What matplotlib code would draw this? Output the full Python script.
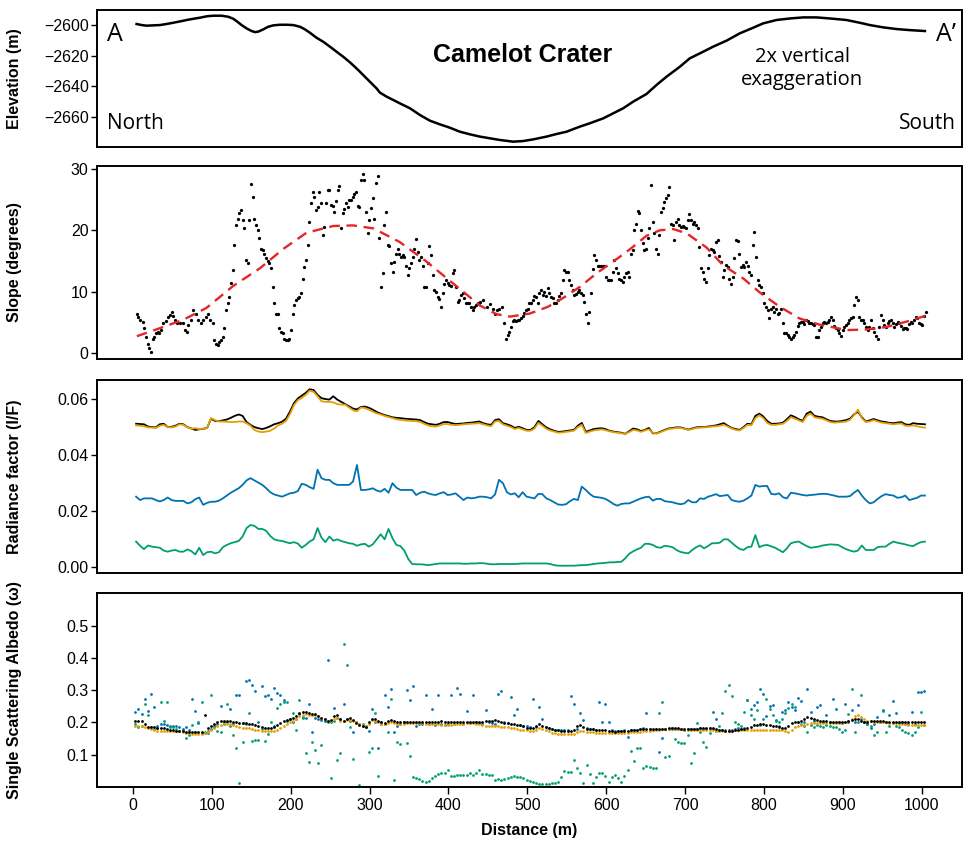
import numpy as np
import matplotlib.pyplot as plt

plt.rcParams['font.family'] = ['Liberation Sans', 'DejaVu Sans']
plt.rcParams['axes.unicode_minus'] = True

# --- elevation profile A-A' (m)
elev_dist = [4.6, 11.0, 17.3, 25.8, 34.2, 42.7, 51.1, 61.7, 72.2, 84.9, 93.4, 101.8, 112.4,
             120.9, 127.2, 132.3, 137.7, 144.1, 150.4, 154.6, 158.9, 165.2, 171.5, 177.9,
             186.3, 194.8, 203.2, 211.7, 218.0, 224.3, 232.8, 241.2, 249.7, 258.1, 266.6,
             275.0, 283.5, 291.9, 300.4, 308.8, 313.1, 321.5, 330.0, 338.4, 351.1, 363.8,
             376.4, 389.1, 401.8, 414.4, 427.1, 439.8, 452.5, 465.1, 482.0, 494.7, 507.4,
             524.3, 537.0, 549.7, 566.5, 579.2, 596.1, 608.8, 621.5, 634.1, 651.0, 663.7,
             676.4, 693.3, 705.9, 718.6, 735.5, 752.4, 769.3, 784.1, 798.9, 815.8, 832.7,
             849.6, 866.5, 883.4, 904.5, 921.4, 934.1, 951.0, 967.9, 984.8, 1004.0]
elev_m = [-2599.3, -2600.0, -2600.4, -2600.2, -2600.0, -2599.3, -2598.5, -2597.4, -2596.3,
          -2595.2, -2594.3, -2593.9, -2593.9, -2594.6, -2595.9, -2597.8, -2600.0, -2602.2,
          -2603.9, -2604.6, -2604.3, -2602.8, -2601.1, -2600.2, -2599.8, -2599.8, -2600.0,
          -2601.1, -2602.8, -2605.0, -2608.3, -2610.9, -2614.1, -2617.4, -2620.7, -2624.3,
          -2628.3, -2632.6, -2637.0, -2641.3, -2644.1, -2646.7, -2648.9, -2651.1, -2654.3,
          -2658.7, -2662.4, -2664.8, -2667.0, -2669.6, -2671.3, -2672.8, -2673.9, -2675.0,
          -2676.1, -2675.7, -2674.6, -2672.8, -2671.1, -2669.6, -2666.3, -2664.1, -2660.9,
          -2657.6, -2654.3, -2650.0, -2645.0, -2639.1, -2633.7, -2627.2, -2621.7, -2618.5,
          -2614.1, -2610.2, -2605.4, -2602.2, -2598.9, -2596.7, -2595.7, -2595.0, -2595.0,
          -2595.7, -2596.7, -2598.5, -2600.0, -2601.5, -2602.6, -2603.3, -2603.9]

# --- slope (degrees); first stretch of each half is irregular, then every ~2.1 m
slope_dist_a = [4.6, 6.8, 8.9, 12.3, 14.4, 16.5, 18.6, 20.7, 22.8, 24.9, 27.0, 29.2, 31.3,
                33.4, 35.5, 38.4, 41.8, 44.8, 46.9, 49.0, 51.1, 53.2, 55.3, 59.6, 62.9, 65.9,
                68.0, 70.1, 73.1, 76.5, 79.8, 82.8, 85.8, 89.1, 92.5, 95.5, 97.6, 101.0]
slope_dist_b = [439.8, 444.1, 448.4, 452.5, 455.9, 458.8, 461.8, 464.3, 467.3, 470.3]
slope_deg = [
    6.4, 5.9, 5.3, 5.1, 4.0, 2.6, 1.5, 0.7, 0.2, 2.3,
    2.6, 3.2, 3.4, 3.2, 3.7, 4.8, 5.2, 5.9, 6.2, 6.7,
    6.0, 5.4, 4.9, 4.8, 4.8, 3.7, 3.4, 4.5, 5.3, 7.0,
    6.3, 5.3, 4.8, 5.4, 5.9, 6.4, 5.4, 4.8, 2.1, 1.5,
    1.3, 1.8, 2.1, 2.6, 4.0, 7.0, 8.1, 9.1, 11.4, 13.5,
    17.6, 20.8, 21.9, 22.8, 23.3, 21.6, 20.3, 15.1, 14.6, 21.7,
    27.5, 25.5, 21.9, 20.8, 20.0, 18.7, 17.0, 16.7, 16.2, 15.4,
    15.0, 14.6, 13.8, 10.8, 8.1, 6.3, 6.3, 4.0, 3.4, 3.2,
    2.3, 2.1, 2.1, 2.3, 3.7, 6.3, 7.8, 8.6, 8.9, 9.1,
    9.7, 12.0, 14.0, 15.2, 17.6, 21.4, 24.4, 26.3, 25.5, 23.3,
    23.8, 26.3, 24.4, 19.2, 20.6, 24.4, 26.6, 26.6, 24.1, 24.0,
    23.0, 24.8, 26.6, 27.2, 20.3, 22.8, 23.4, 24.4, 23.8, 25.0,
    24.9, 25.4, 26.0, 26.3, 24.0, 23.8, 28.2, 29.2, 28.2, 23.0,
    19.6, 21.7, 23.6, 25.2, 21.9, 27.8, 28.9, 18.8, 10.7, 13.0,
    20.8, 23.0, 17.6, 17.4, 14.6, 13.2, 14.9, 16.2, 17.0, 16.2,
    15.7, 15.9, 15.7, 14.2, 12.7, 13.8, 14.6, 15.7, 16.9, 18.5,
    16.5, 15.1, 15.7, 14.2, 10.8, 10.8, 14.6, 17.4, 15.9, 12.7,
    10.2, 10.0, 9.1, 8.7, 7.5, 9.7, 11.3, 11.9, 11.4, 11.1,
    10.9, 13.0, 13.5, 10.8, 8.3, 8.6, 9.4, 9.8, 8.9, 8.2,
    8.1, 8.1, 7.5, 7.0, 7.5, 7.8, 8.1, 8.2,
    8.3, 8.6, 7.5, 7.9, 7.2, 6.3, 7.0, 7.2, 7.5, 4.8,
    2.3, 2.9, 3.4, 4.2, 5.2, 5.4, 5.2, 5.3, 5.3, 5.6,
    6.0, 6.5, 6.9, 7.1, 8.1, 8.2, 8.6, 9.3, 9.1, 8.1,
    9.7, 10.2, 9.4, 10.0, 9.3, 10.6, 9.7, 9.1, 8.9, 8.1,
    8.2, 8.6, 9.3, 9.7, 11.8, 13.5, 13.2, 13.2, 11.9, 11.1,
    10.2, 9.4, 9.6, 10.0, 10.2, 9.7, 9.4, 8.3, 6.3, 4.9,
    6.7, 9.7, 13.6, 15.9, 15.1, 14.2, 14.2, 14.2, 14.2, 14.2,
    12.4, 11.8, 11.8, 11.8, 13.2, 15.1, 13.8, 13.0, 12.1, 11.9,
    11.6, 12.4, 13.1, 13.2, 12.4, 16.1, 16.7, 20.0, 21.1, 23.2,
    22.8, 20.0, 18.0, 16.7, 16.9, 18.7, 20.3, 27.4, 21.4, 19.5,
    17.0, 16.2, 19.2, 23.0, 23.6, 24.7, 25.2, 25.7, 27.0, 21.0,
    20.9, 18.4, 21.4, 21.8, 20.9, 20.6, 20.7, 20.6, 20.3, 21.7,
    22.6, 21.7, 21.0, 21.4, 20.9, 20.3, 17.3, 13.9, 13.2, 12.1,
    11.6, 13.8, 15.9, 16.9, 16.8, 16.5, 18.1, 18.4, 15.8, 14.9,
    12.4, 13.5, 14.3, 14.0, 12.1, 11.2, 12.4, 15.4, 18.4, 18.3,
    16.2, 14.0, 14.3, 14.0, 14.9, 14.2, 13.2, 12.7, 17.6, 19.8,
    15.7, 11.9, 11.1, 10.7, 9.8, 8.2, 7.5, 7.0, 5.6, 7.2,
    7.5, 6.7, 7.1, 6.4, 6.5, 7.2, 4.8, 3.2, 3.2, 2.9,
    2.6, 2.3, 2.5, 2.9, 3.4, 4.4, 4.8, 5.1, 5.1, 4.7,
    5.3, 5.2, 4.9, 4.8, 4.7, 4.5, 2.6, 2.5, 3.7, 4.2,
    4.9, 5.1, 4.8, 5.1, 5.4, 5.9, 5.3, 4.4, 4.0, 3.7,
    3.3, 2.7, 3.7, 4.2, 4.5, 4.8, 5.3, 5.6, 5.9, 7.8,
    9.1, 8.6, 5.9, 5.3, 5.3, 4.9, 4.2, 3.7, 4.2, 5.3,
    4.0, 3.4, 2.7, 2.3, 4.2, 6.2, 5.3, 4.5, 4.2, 4.8,
    5.2, 5.3, 4.9, 4.2, 4.7, 5.1, 4.9, 4.4, 3.8, 4.0,
    4.0, 3.8, 4.7, 5.1, 4.9, 5.4, 5.9, 5.6, 4.9, 4.7,
    4.5, 6.0, 6.7]

# smoothed slope trend
trend_dist = [5, 34, 64, 93, 127, 161, 191, 220, 254, 279, 305, 338, 372, 406, 440, 461,
              478, 503, 526, 546, 567, 588, 609, 630, 651, 668, 685, 702, 727, 748, 774,
              795, 820, 845, 870, 905, 930, 955, 981, 1004]
trend_deg = [2.7, 4.0, 5.4, 7.3, 10.9, 13.8, 17.0, 19.6, 20.7, 20.8, 20.3, 18.1, 14.9,
             11.3, 7.7, 6.3, 5.9, 6.4, 7.5, 9.0, 10.8, 13.0, 14.9, 16.9, 19.1, 20.0, 20.2,
             19.5, 17.2, 14.3, 12.1, 9.8, 7.5, 5.6, 4.6, 3.7, 3.8, 4.2, 5.1, 6.0]

# --- radiance factor I/F, every 5 m from 4 m (units of 1e-4)
rf_black = [
    512, 511, 510, 502, 500, 499, 510, 512, 500, 501, 505, 512, 510, 500, 495, 490, 492, 494, 497, 530,
    522, 521, 524, 527, 533, 540, 545, 540, 518, 508, 500, 496, 493, 497, 503, 510, 514, 519, 530, 555,
    585, 602, 612, 622, 635, 632, 615, 603, 600, 598, 610, 598, 590, 582, 574, 566, 563, 572, 573, 569,
    562, 554, 548, 543, 539, 535, 533, 532, 530, 529, 528, 527, 525, 518, 512, 510, 508, 512, 518, 518,
    514, 511, 512, 513, 515, 516, 518, 520, 514, 510, 508, 525, 528, 514, 510, 505, 497, 501, 496, 490,
    490, 500, 522, 510, 499, 492, 487, 483, 484, 486, 488, 490, 505, 515, 483, 488, 493, 495, 496, 493,
    487, 484, 482, 480, 476, 485, 495, 492, 486, 490, 497, 478, 478, 484, 490, 495, 497, 499, 499, 495,
    491, 495, 499, 500, 500, 502, 504, 506, 510, 514, 505, 497, 493, 490, 500, 512, 510, 540, 548, 538,
    522, 512, 512, 513, 516, 528, 542, 536, 528, 522, 548, 555, 540, 537, 535, 528, 522, 520, 520, 522,
    525, 530, 545, 555, 535, 520, 524, 529, 524, 520, 518, 515, 514, 516, 518, 510, 508, 514, 512, 511,
    510]
rf_orange = [
    506, 505, 503, 499, 498, 497, 505, 508, 500, 499, 502, 510, 508, 500, 494, 496, 493, 494, 497, 532,
    525, 520, 520, 519, 518, 518, 520, 520, 514, 505, 490, 484, 482, 484, 487, 495, 506, 512, 522, 546,
    578, 596, 604, 615, 630, 626, 610, 592, 590, 590, 588, 582, 580, 580, 570, 560, 556, 570, 568, 562,
    555, 549, 545, 540, 536, 532, 528, 526, 524, 523, 522, 521, 519, 512, 506, 503, 502, 506, 511, 511,
    508, 507, 508, 510, 511, 512, 513, 514, 510, 506, 503, 520, 522, 510, 505, 500, 493, 497, 492, 487,
    487, 495, 515, 505, 494, 488, 484, 480, 481, 483, 485, 487, 500, 508, 479, 484, 488, 490, 492, 489,
    485, 482, 480, 478, 476, 482, 490, 488, 483, 488, 492, 480, 477, 482, 488, 493, 495, 497, 497, 494,
    490, 493, 497, 498, 499, 500, 502, 503, 505, 508, 502, 495, 490, 488, 497, 508, 507, 532, 542, 532,
    515, 508, 508, 510, 512, 522, 535, 530, 524, 518, 540, 548, 535, 532, 530, 524, 518, 516, 517, 518,
    520, 526, 542, 562, 532, 518, 520, 525, 520, 516, 514, 512, 510, 512, 513, 505, 504, 506, 503, 500,
    498]
rf_blue = [
    252, 240, 246, 246, 246, 240, 235, 240, 249, 240, 237, 237, 237, 228, 232, 243, 249, 223, 230, 234,
    234, 238, 246, 256, 266, 274, 282, 294, 310, 318, 310, 302, 294, 282, 268, 260, 256, 252, 258, 264,
    266, 272, 298, 294, 286, 280, 348, 318, 312, 312, 300, 294, 294, 294, 294, 306, 365, 276, 276, 278,
    282, 274, 270, 280, 266, 300, 284, 276, 276, 276, 276, 258, 266, 270, 264, 260, 258, 264, 268, 258,
    260, 264, 252, 240, 249, 246, 248, 252, 252, 250, 246, 260, 312, 300, 268, 260, 264, 250, 268, 252,
    249, 246, 262, 261, 246, 240, 232, 224, 223, 225, 236, 244, 240, 288, 276, 262, 252, 250, 248, 244,
    236, 226, 220, 226, 228, 228, 234, 240, 246, 250, 252, 238, 244, 244, 236, 234, 232, 228, 225, 228,
    240, 232, 232, 246, 244, 252, 256, 261, 254, 256, 258, 240, 236, 234, 238, 246, 256, 294, 288, 290,
    290, 262, 260, 264, 250, 246, 266, 264, 261, 258, 256, 258, 259, 261, 262, 262, 259, 256, 252, 252,
    252, 254, 266, 276, 256, 240, 228, 232, 244, 254, 261, 258, 256, 248, 250, 256, 240, 244, 248, 256,
    256]
rf_green = [
    92, 77, 65, 78, 74, 72, 70, 60, 56, 60, 62, 56, 56, 64, 58, 46, 70, 44, 54, 56,
    50, 54, 72, 80, 86, 90, 94, 110, 140, 151, 148, 137, 137, 130, 112, 100, 96, 94, 90, 86,
    90, 85, 70, 80, 92, 100, 140, 106, 90, 110, 95, 100, 94, 90, 86, 84, 77, 82, 84, 74,
    82, 100, 118, 100, 137, 104, 80, 76, 60, 30, 12, 11, 11, 10, 8, 10, 12, 14, 14, 14,
    14, 14, 14, 13, 13, 14, 14, 15, 15, 13, 11, 11, 12, 12, 12, 12, 12, 13, 14, 14,
    14, 14, 14, 14, 14, 12, 8, 6, 6, 6, 6, 6, 7, 8, 8, 10, 12, 14, 15, 16,
    18, 18, 19, 20, 32, 48, 57, 64, 70, 84, 84, 80, 72, 70, 77, 75, 72, 62, 55, 52,
    50, 62, 72, 78, 68, 76, 86, 86, 88, 100, 100, 88, 76, 66, 62, 72, 74, 115, 72, 78,
    80, 75, 70, 62, 54, 68, 86, 90, 92, 84, 76, 70, 72, 74, 78, 80, 82, 81, 80, 72,
    65, 60, 56, 60, 78, 62, 62, 62, 72, 74, 74, 84, 92, 88, 85, 82, 78, 76, 84, 90,
    92]

# --- single scattering albedo, every 4 m from 3 m (units of 1e-3)
ssa_black = [
    204, 203, 204, 195, 187, 186, 185, 184, 183, 182, 180, 178, 176, 175, 174, 172, 171, 171, 171, 171, 170, 169, 222, 184, 190,
    196, 201, 203, 203, 203, 203, 202, 200, 198, 197, 197, 196, 195, 192, 188, 185, 184, 184, 184, 186, 192, 198, 203, 207, 211,
    214, 220, 230, 233, 231, 228, 227, 225, 220, 215, 212, 205, 208, 220, 222, 210, 206, 212, 213, 207, 198, 192, 190, 187, 200,
    212, 210, 205, 200, 197, 203, 207, 205, 200, 201, 202, 202, 201, 202, 202, 202, 201, 200, 200, 200, 201, 202, 203, 202, 202,
    201, 200, 200, 200, 200, 201, 201, 202, 202, 202, 202, 203, 203, 204, 207, 203, 200, 198, 197, 196, 195, 193, 191, 188, 184,
    183, 184, 189, 194, 190, 187, 184, 181, 178, 176, 175, 175, 175, 174, 178, 188, 192, 186, 181, 180, 179, 178, 177, 176, 176,
    174, 172, 171, 172, 173, 174, 175, 176, 177, 178, 179, 180, 180, 180, 181, 181, 180, 180, 181, 182, 182, 182, 182, 181, 181,
    180, 180, 180, 181, 182, 182, 182, 182, 182, 180, 178, 176, 174, 174, 175, 176, 178, 180, 180, 182, 186, 192, 193, 194, 194,
    193, 191, 189, 188, 187, 184, 182, 190, 197, 200, 202, 204, 210, 216, 214, 210, 207, 205, 204, 203, 202, 202, 202, 202, 202,
    202, 204, 207, 212, 210, 205, 202, 202, 203, 204, 204, 204, 203, 202, 202, 202, 202, 202, 202, 202, 202, 202, 202, 202, 202,
    202]
ssa_orange = [
    190, 189, 188, 186, 184, 180, 176, 174, 173, 174, 173, 172, 172, 172, 172, 170, 168, 166, 164, 163, 163, 164, 166, 170, 176,
    184, 190, 193, 195, 195, 194, 192, 190, 187, 184, 183, 182, 180, 178, 176, 175, 174, 173, 174, 175, 177, 182, 188, 194, 200,
    206, 212, 220, 224, 225, 224, 222, 222, 220, 214, 210, 205, 204, 210, 214, 206, 204, 207, 208, 206, 200, 194, 192, 190, 196,
    207, 205, 200, 196, 194, 198, 200, 198, 196, 196, 196, 197, 198, 198, 199, 198, 197, 196, 195, 194, 194, 194, 193, 193, 193,
    193, 194, 195, 196, 196, 197, 197, 197, 196, 194, 192, 190, 190, 188, 190, 188, 187, 186, 185, 184, 182, 180, 178, 177, 176,
    174, 175, 178, 182, 180, 176, 172, 168, 166, 164, 163, 163, 163, 163, 165, 170, 175, 172, 170, 170, 169, 168, 167, 166, 166,
    166, 166, 166, 166, 167, 168, 168, 169, 170, 171, 171, 172, 173, 174, 176, 177, 178, 179, 180, 181, 182, 181, 180, 179, 178,
    177, 177, 176, 176, 176, 176, 176, 176, 176, 175, 174, 173, 173, 174, 175, 176, 176, 176, 176, 176, 176, 177, 178, 178, 177,
    177, 176, 176, 176, 176, 176, 172, 171, 178, 185, 190, 192, 193, 195, 197, 198, 199, 199, 199, 199, 198, 198, 198, 199, 199,
    200, 204, 212, 220, 222, 218, 210, 205, 203, 202, 202, 202, 201, 200, 199, 198, 197, 196, 195, 194, 193, 193, 192, 192, 192,
    192]
ssa_blue = [
    231, 241, 225, 272, 235, 287, 248, 190, 195, 195, 192, 190, 188, 190, 186, 180, 185, 178, 272, 235, 198, 168, 166, 168, 180,
    188, 195, 251, 200, 202, 241, 195, 286, 284, 198, 327, 333, 315, 296, 200, 313, 282, 286, 272, 307, 292, 284, 269, 205, 210,
    200, 212, 225, 218, 215, 258, 171, 215, 210, 208, 205, 395, 200, 245, 215, 212, 258, 210, 205, 171, 200, 195, 188, 185, 173,
    243, 200, 120, 195, 286, 248, 305, 171, 190, 195, 200, 300, 269, 313, 190, 195, 195, 286, 195, 243, 192, 284, 195, 193, 195,
    286, 195, 307, 289, 196, 235, 198, 286, 200, 198, 195, 238, 200, 198, 195, 289, 296, 200, 198, 279, 223, 243, 192, 190, 188,
    185, 272, 185, 248, 212, 186, 184, 180, 178, 176, 177, 178, 178, 281, 258, 180, 228, 207, 182, 180, 179, 178, 264, 202, 258,
    200, 176, 175, 174, 175, 176, 156, 176, 178, 178, 180, 182, 230, 180, 178, 180, 110, 151, 180, 181, 182, 181, 180, 180, 178,
    180, 179, 180, 181, 182, 180, 181, 182, 233, 212, 178, 176, 176, 178, 178, 180, 182, 180, 184, 269, 241, 253, 264, 305, 289,
    220, 251, 255, 207, 190, 233, 238, 264, 248, 238, 276, 266, 200, 305, 233, 205, 248, 253, 200, 223, 200, 274, 243, 200, 198,
    258, 200, 238, 200, 255, 210, 200, 195, 182, 195, 217, 200, 238, 200, 223, 266, 228, 198, 202, 196, 195, 233, 195, 294, 294,
    296]
ssa_green = [
    195, 187, 190, 258, 222, 185, 180, 182, 262, 204, 262, 185, 187, 180, 175, 172, 153, 161, 192, 170, 200, 262, 170, 175, 284,
    185, 173, 171, 195, 258, 190, 161, 122, 12, 140, 195, 228, 143, 146, 146, 180, 143, 163, 202, 190, 245, 258, 262, 264, 210,
    228, 176, 269, 215, 105, 79, 140, 115, 74, 130, 205, 200, 28, 205, 84, 105, 443, 378, 187, 87, 200, 7, 195, 190, 110,
    122, 228, 33, 200, 195, 171, 274, 23, 140, 132, 200, 135, 97, 30, 28, 26, 20, 15, 18, 28, 35, 40, 42, 43, 53,
    33, 35, 36, 38, 37, 36, 43, 38, 45, 53, 40, 40, 38, 38, 23, 24, 23, 25, 28, 30, 33, 32, 30, 28, 23,
    18, 15, 12, 9, 9, 9, 10, 12, 14, 17, 30, 50, 48, 46, 84, 60, 43, 12, 67, 40, 12, 30, 43, 43, 33,
    17, 30, 38, 28, 17, 33, 53, 112, 80, 120, 120, 60, 64, 62, 60, 58, 228, 264, 94, 97, 180, 150, 140, 135, 135,
    161, 74, 105, 197, 170, 140, 125, 166, 180, 175, 190, 228, 296, 315, 282, 200, 195, 190, 233, 269, 223, 212, 238, 192, 212,
    272, 241, 223, 205, 200, 212, 228, 245, 258, 248, 200, 195, 190, 171, 192, 185, 192, 190, 185, 192, 188, 185, 185, 180, 171,
    176, 225, 303, 171, 200, 284, 202, 195, 190, 161, 171, 200, 235, 171, 190, 197, 190, 185, 176, 171, 166, 161, 171, 185, 233,
    192]

c_black = '#000000'
c_orange = '#E69F00'
c_blue = '#0072B2'
c_green = '#009E73'

# distances of the regularly spaced slope samples (2.11 m apart)
n_left = 198 - len(slope_dist_a)
n_right = len(slope_deg) - 198 - len(slope_dist_b)
slope_dist = np.concatenate([slope_dist_a, np.linspace(103.1, 439.0, n_left),
                             slope_dist_b, np.linspace(472.8, 1005.1, n_right)])
slope_deg = np.array(slope_deg)
rf_dist = 4 + 5 * np.arange(len(rf_black))
ssa_dist = 3 + 4 * np.arange(len(ssa_black))

fig = plt.figure(figsize=(9.63, 8.44), dpi=100)
left, width = 0.1007, 0.8983
ax1 = fig.add_axes([left, 0.8258, width, 0.1623])
ax2 = fig.add_axes([left, 0.5746, width, 0.2287])
ax3 = fig.add_axes([left, 0.3211, width, 0.2287])
ax4 = fig.add_axes([left, 0.0675, width, 0.2299])

for ax in (ax1, ax2, ax3, ax4):
    ax.set_xlim(-45.6, 1051)
    for sp in ax.spines.values():
        sp.set_linewidth(1.4)
    ax.tick_params(axis='y', direction='out', length=4, width=1, labelsize=11.5, pad=2)
    ax.tick_params(axis='x', bottom=False, labelbottom=False)

# elevation
ax1.plot(elev_dist, elev_m, color='black', lw=1.8, solid_joinstyle='round')
ax1.set_ylim(-2679.6, -2590.2)
ax1.set_yticks([-2660, -2640, -2620, -2600])
txt = dict(family=['Open Sans', 'DejaVu Sans'], transform=ax1.transAxes)
ax1.text(0.012, 0.82, 'A', fontsize=18, ha='left', va='center', **txt)
ax1.text(0.993, 0.82, 'A\u2019', fontsize=18, ha='right', va='center', **txt)
ax1.text(0.012, 0.175, 'North', fontsize=15, ha='left', va='center', **txt)
ax1.text(0.993, 0.175, 'South', fontsize=15, ha='right', va='center', **txt)
ax1.text(0.815, 0.573, '2x vertical\nexaggeration', fontsize=14.5, ha='center', va='center',
         linespacing=1.25, **txt)
ax1.text(0.4925, 0.67, 'Camelot Crater', fontsize=18, fontweight='bold',
         ha='center', va='center', transform=ax1.transAxes)

# slope
ax2.scatter(slope_dist, slope_deg, s=5.5, color='black', linewidths=0, zorder=2)
ax2.plot(trend_dist, trend_deg, color='#e3262a', lw=1.7, dashes=(4.5, 2.8), zorder=3)
ax2.set_ylim(-1.03, 30.5)
ax2.set_yticks([0, 10, 20, 30])

# radiance factor
ax3.plot(rf_dist, np.array(rf_black) * 1e-4, color=c_black, lw=1.3)
ax3.plot(rf_dist, np.array(rf_orange) * 1e-4, color=c_orange, lw=1.3)
ax3.plot(rf_dist, np.array(rf_blue) * 1e-4, color=c_blue, lw=1.3)
ax3.plot(rf_dist, np.array(rf_green) * 1e-4, color=c_green, lw=1.3)
ax3.set_ylim(-0.002, 0.0668)
ax3.set_yticks([0.0, 0.02, 0.04, 0.06])
ax3.set_yticklabels(['0.00', '0.02', '0.04', '0.06'])

# single scattering albedo
ax4.scatter(ssa_dist, np.array(ssa_blue) * 1e-3, s=4, color=c_blue, linewidths=0)
ax4.scatter(ssa_dist, np.array(ssa_green) * 1e-3, s=4, color=c_green, linewidths=0)
ax4.scatter(ssa_dist, np.array(ssa_orange) * 1e-3, s=4, color=c_orange, linewidths=0)
ax4.scatter(ssa_dist, np.array(ssa_black) * 1e-3, s=4, color=c_black, linewidths=0)
ax4.set_ylim(0.0, 0.601)
ax4.set_yticks([0.1, 0.2, 0.3, 0.4, 0.5])
ax4.set_xticks(np.arange(0, 1001, 100))
ax4.tick_params(axis='x', bottom=True, labelbottom=True, direction='out', length=5,
                width=1, labelsize=11.5, pad=3)
ax4.set_xlabel('Distance (m)', fontsize=11.5, fontweight='bold')
ax4.xaxis.set_label_coords(0.5, -0.185)
ax4.xaxis.label.set_va('top')

labels = [(ax1, 'Elevation (m)'), (ax2, 'Slope (degrees)'),
          (ax3, 'Radiance factor (I/F)'), (ax4, 'Single Scattering Albedo (\u03c9)')]
for ax, lab in labels:
    ax.set_ylabel(lab, fontsize=11.5, fontweight='bold')
    ax.yaxis.set_label_coords(-0.087, 0.5)

fig.savefig('out.png', dpi=100)
